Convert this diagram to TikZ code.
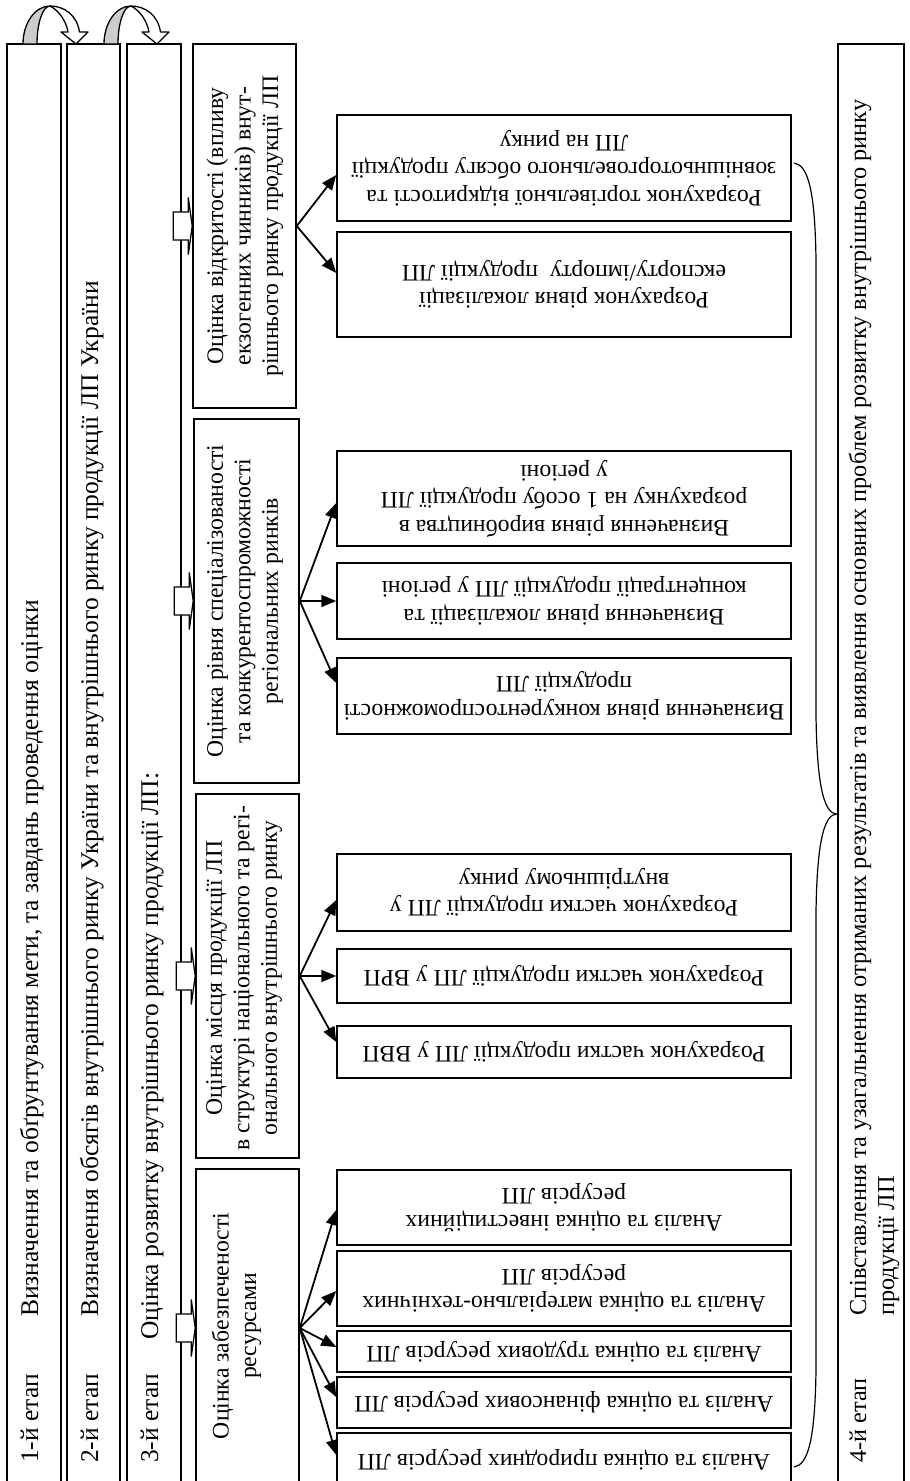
\documentclass[tikz,border=0pt]{standalone}
\usepackage{fontspec}
\setmainfont{Liberation Serif}
\usetikzlibrary{arrows.meta}
\begin{document}
\begin{tikzpicture}[x=1pt,y=-1pt,
  box/.style={draw, line width=1.5pt, rectangle, inner sep=0pt, fill=white},
  inbox/.style={box, rotate=180, align=center, minimum width=454pt, font=\fontsize{23.7}{27.5}\selectfont},
  txt/.style={inner sep=0pt, font=\fontsize{25.5}{29.3}\selectfont},
  ftxt/.style={inner sep=0pt, font=\fontsize{24.3}{28}\selectfont},
  stxt/.style={inner sep=0pt, font=\fontsize{23.7}{27.5}\selectfont},
  conn/.style={line width=1.8pt, -{Triangle[length=15pt,width=12pt]}},
  barrow/.style={draw, line width=1.3pt, fill=white, line join=miter},
  uturn/.style={draw, line width=1.3pt, line join=round},
  bracestyle/.style={draw, line width=1.2pt}
]
\useasboundingbox (0,0) rectangle (910,1481);
\clip (0,0) rectangle (910,1481);

% columns
\node[box, minimum width=54pt, minimum height=1446pt] (c1) at (34,767) {};
\node[box, minimum width=53pt, minimum height=1446pt] (c2) at (93.5,767) {};
\node[box, minimum width=54pt, minimum height=1446pt] (c3) at (154,767) {};
\node[box, minimum width=66pt, minimum height=1446pt] (c4) at (871,767) {};

\node[txt, rotate=90, anchor=base west] (t1a) at (38,1463) {1-й етап};
\node[txt, rotate=90, anchor=base west] (t1b) at (38,1317) {Визначення та обґрунтування мети, та завдань проведення оцінки};
\node[txt, rotate=90, anchor=base west] (t2a) at (98,1463) {2-й етап};
\node[txt, rotate=90, anchor=base west] (t2b) at (98,1317) {Визначення обсягів внутрішнього ринку України та внутрішнього ринку продукції ЛП України};
\node[txt, rotate=90, anchor=base west] (t3a) at (158,1463) {3-й етап};
\node[txt, rotate=90, anchor=base west] (t3b) at (158,1340) {Оцінка розвитку внутрішнього ринку продукції ЛП:};
\node[ftxt, rotate=90, anchor=base west] (t4a) at (866,1463) {4-й етап};
\node[ftxt, rotate=90, anchor=base west] (t4b) at (866,1316) {Співставлення та узагальнення отриманих результатів та виявлення основних проблем розвитку внутрішнього ринку};
\node[ftxt, rotate=90, anchor=base west] (t4c) at (894,1316) {продукції ЛП};

% sub boxes of stage 3
\node[box, minimum width=103pt, minimum height=318pt] (s1) at (247.5,1328) {};
\node[box, minimum width=103pt, minimum height=364pt] (s2) at (247.5,976) {};
\node[box, minimum width=105pt, minimum height=364pt] (s3) at (246.5,601) {};
\node[box, minimum width=103pt, minimum height=364pt] (s4) at (244.5,226) {};

\node[stxt, rotate=90, align=center] (s1t) at (236.5,1326) {Оцінка забезпеченості\\ресурсами};
\node[stxt, rotate=90, align=center] (s2t) at (244,978) {Оцінка місця продукції ЛП\\в структурі національного та регі-\\онального внутрішнього ринку};
\node[stxt, rotate=90, align=center] (s3t) at (245,601) {Оцінка рівня спеціалізованості\\та конкурентоспроможності\\регіональних ринків};
\node[stxt, rotate=90, align=center] (s4t) at (245,226) {Оцінка відкритості (впливу\\екзогенних чинників) внут-\\рішнього ринку продукції ЛП};

% block arrows from stage 3 column to sub boxes
\foreach \s in {s1,s2,s3,s4}{
  \draw[barrow] ([xshift=-19pt,yshift=14pt]\s.west) -- ++(15,0) -- ++(0,-14.5) -- ++(4,28.5) -- ++(-4,28.5) -- ++(0,-14.5) -- ++(-15,0) -- cycle;
}

% inner boxes
\node[inbox, minimum height=54pt] (i11) at (564,1460) {Аналіз та оцінка природних ресурсів ЛП};
\node[inbox, minimum height=51pt] (i12) at (564,1402.5) {Аналіз та оцінка фінансових ресурсів ЛП};
\node[inbox, minimum height=41pt] (i13) at (564,1351.5) {Аналіз та оцінка трудових ресурсів ЛП};
\node[inbox, minimum height=75pt] (i14) at (564,1288.5) {Аналіз та оцінка матеріально-технічних\\ресурсів ЛП};
\node[inbox, minimum height=75pt] (i15) at (564,1207.5) {Аналіз та оцінка інвестиційних\\ресурсів ЛП};

\node[inbox, minimum height=52pt] (i21) at (564,1052) {Розрахунок частки продукції ЛП у ВВП};
\node[inbox, minimum height=54pt] (i22) at (564,976) {Розрахунок частки продукції ЛП у ВРП};
\node[inbox, minimum height=77pt] (i23) at (564,892.5) {Розрахунок частки продукції ЛП у\\внутрішньому ринку};

\node[inbox, minimum height=76pt] (i31) at (564,696) {Визначення рівня конкурентоспроможності\\продукції ЛП};
\node[inbox, minimum height=76pt] (i32) at (564,601) {Визначення рівня локалізації та\\концентрації продукції ЛП у регіоні};
\node[inbox, minimum height=95pt] (i33) at (564,498.5) {Визначення рівня виробництва в\\розрахунку на 1 особу продукції ЛП\\у регіоні};

\node[inbox, minimum height=105pt] (i41) at (564,284.5) {Розрахунок рівня локалізації\\експорту/імпорту\ \ продукції ЛП};
\node[inbox, minimum height=106pt] (i42) at (564,168) {Розрахунок торгівельної відкритості та\\зовнішньоторговельного обсягу продукції\\ЛП на ринку};

% connectors
\draw[conn] (s1.east) -- ([yshift=5pt]i11.east);
\draw[conn] (s1.east) -- ([yshift=5.5pt]i12.east);
\draw[conn] (s1.east) -- ([yshift=4.5pt]i13.east);
\draw[conn] (s1.east) -- ([yshift=-2.5pt]i14.east);
\draw[conn] (s1.east) -- ([yshift=-2.5pt]i15.east);

\draw[conn] (s2.east) -- ([yshift=10pt]i21.east);
\draw[conn] (s2.east) -- (i22.east);
\draw[conn] (s2.east) -- ([yshift=-7.5pt]i23.east);

\draw[conn] (s3.east) -- ([yshift=13pt]i31.east);
\draw[conn] (s3.east) -- (i32.east);
\draw[conn] (s3.east) -- ([yshift=-4.5pt]i33.east);

\draw[conn] (s4.east) -- ([yshift=11.5pt]i41.east);
\draw[conn] (s4.east) -- ([yshift=-7pt]i42.east);

% brace towards stage 4
\coordinate (btip) at (c4.west |- 0,814);
\draw[bracestyle] (794,163) .. controls (808,165) and (815,190) .. (816,260) -- (816,715)
  .. controls (817,795) and (826,814) .. (btip)
  .. controls (826,814) and (817,833) .. (816,913) -- (816,1370)
  .. controls (815,1440) and (808,1465) .. (794,1467);

% U-turn arrows at the top
\foreach \dx in {0,81}{
  \begin{scope}[xshift=\dx pt]
    \path[uturn, fill=gray!40] (23,44) .. controls (23,23) and (35.1,6) .. (50,6)
       .. controls (42.8,6) and (37,23) .. (37,44) -- cycle;
    \path[uturn, fill=white] (50,6) .. controls (64,6) and (77,15) .. (79.5,32)
       -- (88,32) -- (76,44) -- (61,32) -- (68,32)
       .. controls (66,20) and (58,10) .. (50,6) -- cycle;
  \end{scope}
}
\end{tikzpicture}
\end{document}
